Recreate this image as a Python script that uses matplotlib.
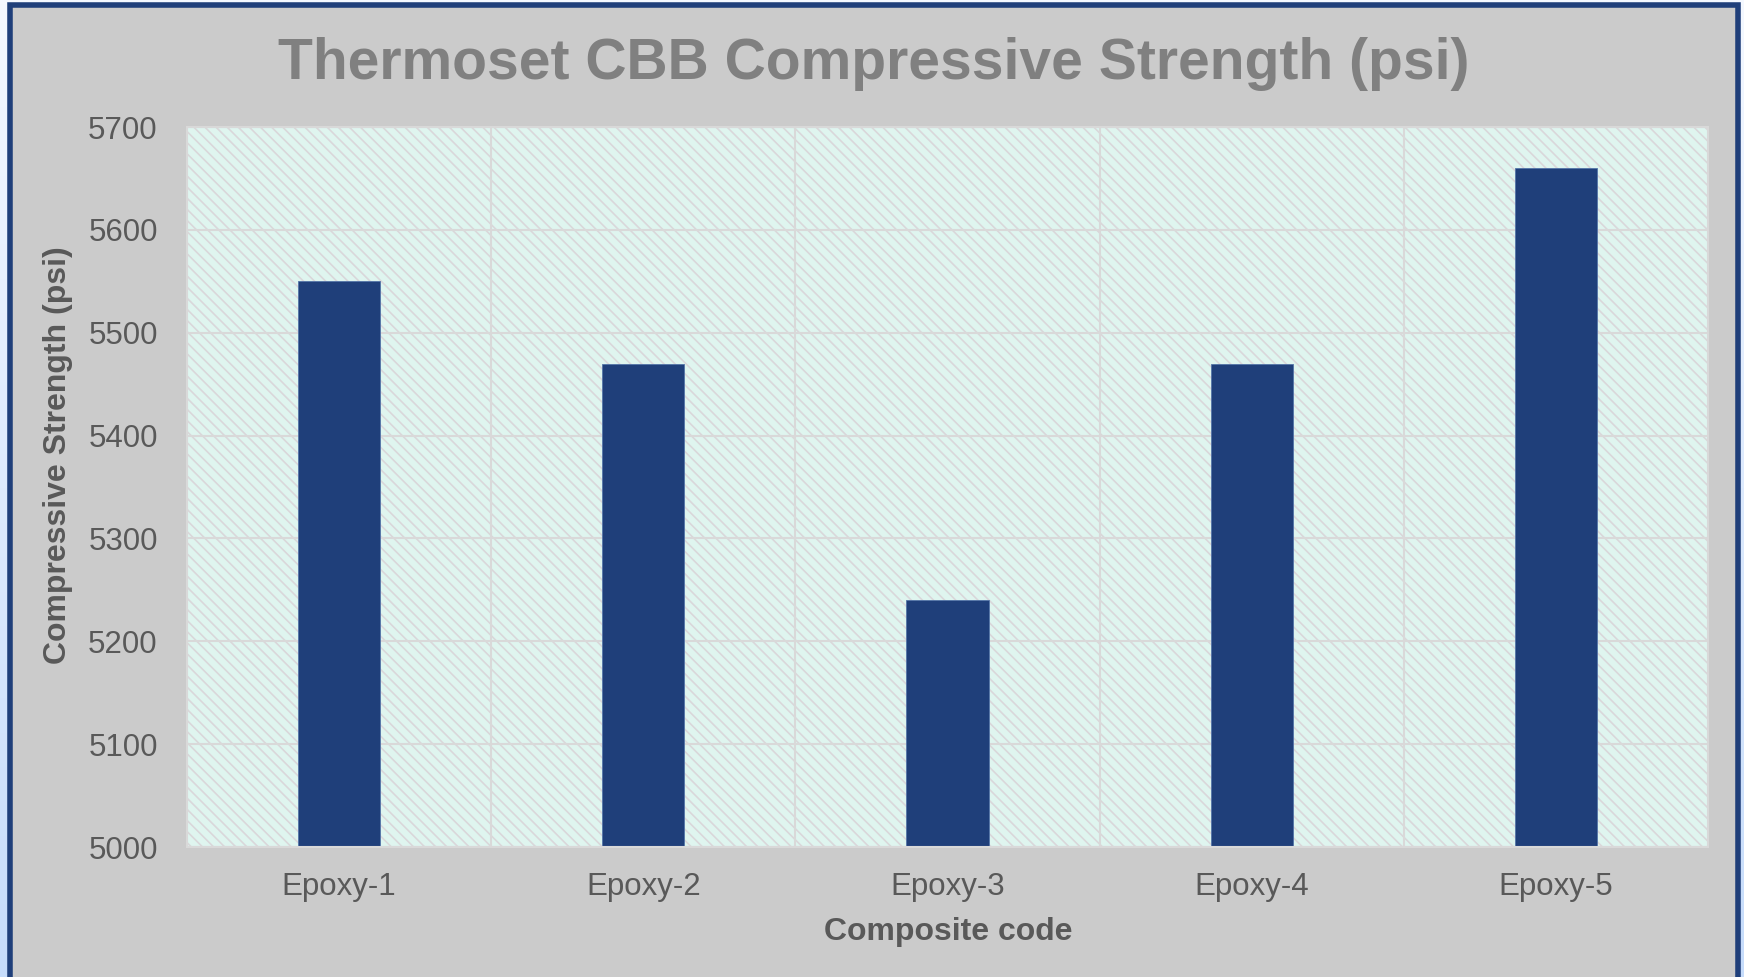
import matplotlib.pyplot as plt
import numpy as np
from matplotlib.patches import Rectangle

plt.rcParams['font.family'] = ['Liberation Sans', 'DejaVu Sans']
plt.rcParams['hatch.linewidth'] = 1.2

# compressive strength per composite (psi)
codes = ['Epoxy-1', 'Epoxy-2', 'Epoxy-3', 'Epoxy-4', 'Epoxy-5']
strength = [5550, 5470, 5240, 5470, 5660]
yticks = [5000, 5100, 5200, 5300, 5400, 5500, 5600, 5700]

W, H = 1744, 977
fig = plt.figure(figsize=(W / 100, H / 100), dpi=100)

# pale blue backdrop fading down the page
bg = fig.add_axes([0, 0, 1, 1], zorder=-10)
grad = np.linspace(0, 1, 256).reshape(-1, 1)
bg.imshow(grad, aspect='auto', extent=[0, 1, 0, 1], origin='upper',
          cmap=plt.matplotlib.colors.LinearSegmentedColormap.from_list(
              'bg', ['#f4f8ff', '#c6dcfb']))
bg.set_axis_off()

# grey panel with a dark blue frame
fig.patches.append(Rectangle((10 / W, -0.05), (1737.5 - 10) / W, 1.05 - 5.5 / H,
                             transform=fig.transFigure, facecolor='#cbcbcb',
                             edgecolor='#1f3f7a', linewidth=4, zorder=-5))

ax = fig.add_axes([187 / W, 1 - 847 / H, (1708 - 187) / W, 720 / H])
ax.set_facecolor('none')
ax.add_patch(Rectangle((0, 0), 1, 1, transform=ax.transAxes, facecolor='#dff5ef',
                       edgecolor='#d9d7da', linewidth=0, hatch='\\\\\\', zorder=0.1))

x = np.arange(len(codes))
ax.bar(x, strength, width=0.27, color='#1f3f7a', edgecolor='#5374a8',
       linewidth=0.6, zorder=2)

ax.set_xlim(-0.5, len(codes) - 0.5)
ax.set_ylim(5000, 5700)
ax.set_yticks(yticks)
ax.set_xticks(x)
ax.set_xticklabels(codes)
ax.set_xticks(x[:-1] + 0.5, minor=True)

ax.set_axisbelow(True)
ax.grid(axis='y', which='major', color='#d9d9d9', linewidth=1.5)
ax.grid(axis='x', which='minor', color='#d9d9d9', linewidth=1.5)

ax.tick_params(axis='both', which='both', length=0, labelsize=22.5,
               labelcolor='#595959')
ax.tick_params(axis='y', pad=21)
ax.tick_params(axis='x', pad=18)
for s in ax.spines.values():
    s.set_color('#d9d9d9')
    s.set_linewidth(1.5)

fig.text(874 / W, 1 - 64 / H, 'Thermoset CBB Compressive Strength (psi)',
         ha='center', va='center', fontsize=41, fontweight='bold', color='#808080')
fig.text(58 / W, 1 - 455 / H, 'Compressive Strength (psi)', rotation=90,
         ha='center', va='center', fontsize=23, fontweight='bold', color='#595959')
fig.text(948 / W, 1 - 932 / H, 'Composite code', ha='center', va='center',
         fontsize=23, fontweight='bold', color='#595959')

fig.savefig('out.png', dpi=100)
